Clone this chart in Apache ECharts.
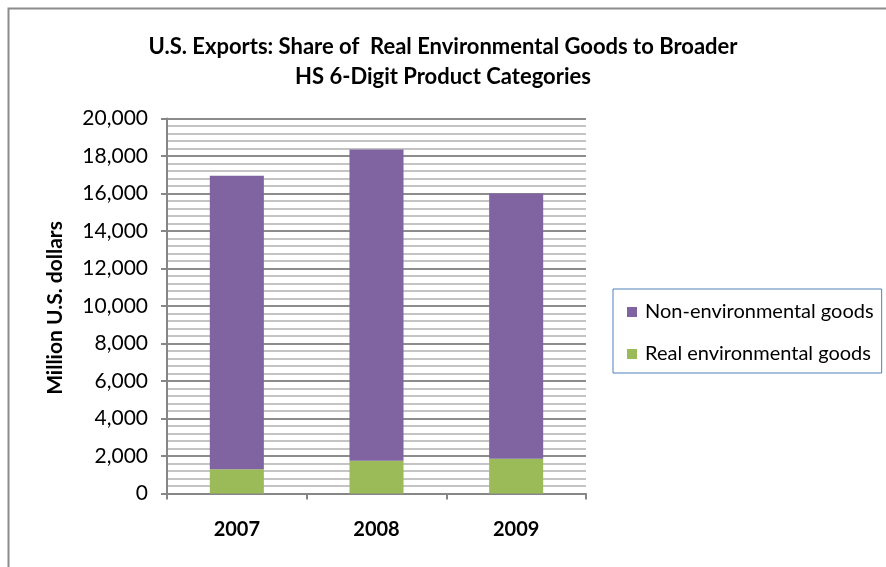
<!DOCTYPE html>
<html>
<head>
<meta charset="utf-8">
<script src="https://cdn.jsdelivr.net/npm/echarts@6/dist/echarts.min.js"></script>
<style>html,body{margin:0;padding:0;background:#fff}#c{width:886px;height:567px}</style>
</head>
<body>
<div id="c"></div>
<script>
const categories = ['2007', '2008', '2009'];
const realEnvironmental = [1300, 1750, 1850];
const nonEnvironmental = [15650, 16600, 14150];
const yTicks = [0, 2000, 4000, 6000, 8000, 10000, 12000, 14000, 16000, 18000, 20000];
const yAxisTitle = 'Million U.S. dollars';

const FONT = 'Lato';
const chart = echarts.init(document.getElementById('c'), null, {renderer: 'canvas'});
chart.setOption({
  backgroundColor: '#fff',
  animation: false,
  textStyle: {fontFamily: FONT},
  graphic: {
    elements: [{
      type: 'rect', left: 6, top: 6, silent: true,
      shape: {width: 900, height: 600},
      style: {fill: 'none', stroke: '#8c8c8c', lineWidth: 2}
    }, {
      type: 'group', x: 55, y: 308, rotation: Math.PI / 2, silent: true,
      children: [{
        type: 'text', x: 0, y: 0,
        style: {
          text: yAxisTitle, align: 'center', verticalAlign: 'middle',
          fontFamily: FONT, fontWeight: 'bold', fontSize: 21, fill: '#000'
        }
      }]
    }]
  },
  title: {
    text: 'U.S. Exports: Share of  Real Environmental Goods to Broader\nHS 6-Digit Product Categories',
    left: 'center', top: 27,
    textStyle: {fontFamily: FONT, fontWeight: 'bold', fontSize: 22, lineHeight: 30, color: '#000'}
  },
  legend: {
    orient: 'vertical',
    left: 613, top: 289,
    padding: [13, 8, 9, 14],
    itemGap: 22,
    itemWidth: 10, itemHeight: 10,
    borderColor: '#4f81bd', borderWidth: 1,
    icon: 'rect',
    data: ['Non-environmental goods', 'Real environmental goods'],
    textStyle: {fontFamily: FONT, fontSize: 20, color: '#000', lineHeight: 18, padding: [0, 0, 0, 3]}
  },
  grid: {left: 167, right: 300, top: 118.5, bottom: 73.5},
  xAxis: {
    type: 'category',
    data: categories,
    axisLine: {lineStyle: {color: '#868686', width: 2}},
    axisTick: {show: true, length: 6, lineStyle: {color: '#868686', width: 2}},
    axisLabel: {margin: 26, fontFamily: FONT, fontWeight: 'bold', fontSize: 20, color: '#000'}
  },
  yAxis: {
    type: 'value',
    min: yTicks[0], max: yTicks[yTicks.length - 1], interval: 2000,
    axisLine: {show: true, lineStyle: {color: '#868686', width: 2}},
    axisTick: {show: true, length: 6, lineStyle: {color: '#868686', width: 2}},
    axisLabel: {
      margin: 19, fontFamily: FONT, fontSize: 21, color: '#000',
      formatter: v => v.toLocaleString('en-US')
    },
    splitLine: {lineStyle: {color: '#8c8c8c', width: 2}},
    minorTick: {show: false, splitNumber: 5},
    minorSplitLine: {show: true, lineStyle: {color: '#c4c4c4', width: 2}}
  },
  series: [
    {
      name: 'Real environmental goods', type: 'bar', stack: 'total',
      data: realEnvironmental, barWidth: '38.7%',
      itemStyle: {color: '#9bbb59'}
    },
    {
      name: 'Non-environmental goods', type: 'bar', stack: 'total',
      data: nonEnvironmental, barWidth: '38.7%',
      itemStyle: {color: '#8064a2'}
    }
  ]
});
</script>
</body>
</html>
